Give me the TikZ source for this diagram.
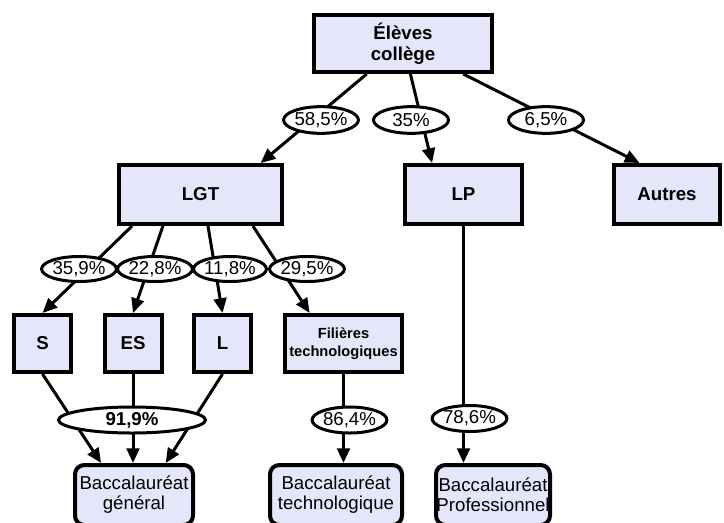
\documentclass[tikz,border=0pt]{standalone}
\usepackage{fontspec}
\setmainfont{Liberation Sans}
\usetikzlibrary{arrows.meta,calc,shapes.geometric}
\definecolor{boxFill}{RGB}{230,230,250}
\tikzset{
  %school box
  boxNode/.style = {draw=black, line width=3pt, fill=boxFill, align=center,
    inner sep=0pt, font=\fontsize{14}{16}\selectfont\bfseries},
  %diploma box
  bacNode/.style = {boxNode, rounded corners=7pt,
    font=\fontsize{14}{15}\selectfont},
  %percentage
  pctNode/.style = {ellipse, draw=black, line width=2.25pt, fill=white,
    inner sep=0pt, minimum height=20pt, font=\fontsize{14}{16}\selectfont},
  arr/.style = {-{Triangle[length=11pt,width=9.5pt]}, line width=2.25pt}
}

\begin{document}
\begin{tikzpicture}[x=0.75pt, y=-0.75pt]
\useasboundingbox (0,0) rectangle (724,522);
% boxes
\node [boxNode, minimum width=133.5pt, minimum height=42.75pt] (eleves)
  at (403,43.5) {Élèves\\collège};
\node [boxNode, minimum width=122.25pt, minimum height=44.25pt] (lgt)
  at (200.5,194.5) {LGT};
\node [boxNode, minimum width=87.75pt, minimum height=44.25pt] (lp)
  at (463.5,194.5) {LP};
\node [boxNode, minimum width=79.5pt, minimum height=44.25pt] (autres)
  at (667,194.5) {Autres};
\node [boxNode, minimum width=42.75pt, minimum height=42.75pt] (s)
  at (42.5,343.5) {S};
\node [boxNode, minimum width=42.75pt, minimum height=42.75pt] (es)
  at (133,343.5) {ES};
\node [boxNode, minimum width=42.75pt, minimum height=42.75pt] (l)
  at (222.5,343.5) {L};
\node [boxNode, minimum width=87.75pt, minimum height=42.75pt,
  font=\fontsize{11}{13}\selectfont\bfseries] (fil)
  at (343.5,343.5) {Filières\\technologiques};
\node [bacNode, minimum width=88.5pt, minimum height=45pt] (bacg)
  at (134,495) {Baccalauréat\\général};
\node [bacNode, minimum width=99pt, minimum height=45pt] (bact)
  at (336,495) {Baccalauréat\\technologique};
\node [bacNode, minimum width=85.5pt, minimum height=45pt] (bacp)
  at (493,495) {Baccalauréat\\Professionnel};

% connectors
\draw [arr] (eleves) -- ($(lgt.north west)!0.86!(lgt.north east)$);
\draw [arr] (eleves) -- ($(lp.north west)!0.24!(lp.north east)$);
\draw [arr] (eleves) -- ($(autres.north west)!0.25!(autres.north east)$);
\draw [arr] ($(lgt.south west)!0.09!(lgt.south east)$) -- (s.north);
\draw [arr] ($(lgt.south west)!0.275!(lgt.south east)$) -- (es.north);
\draw [arr] ($(lgt.south west)!0.545!(lgt.south east)$) -- (l.north);
\draw [arr] ($(lgt.south west)!0.814!(lgt.south east)$)
  -- ($(fil.north west)!0.22!(fil.north east)$);
\draw [arr] (s.south) -- ($(bacg.north west)!0.23!(bacg.north east)$);
\draw [arr] (es.south) -- (es.south |- bacg.north);
\draw [arr] (l.south) -- ($(bacg.north west)!0.76!(bacg.north east)$);
\draw [arr] (fil.south) -- (fil.south |- bact.north);
\draw [arr] (lp.south) -- (lp.south |- bacp.north);

% percentages
\node [pctNode, minimum width=54.75pt] (p585) at (321,120) {58,5\%};
\node [pctNode, minimum width=56.25pt] (p35) at (411,120) {35\%};
\node [pctNode, minimum width=56.25pt] (p65) at (546,120) {6,5\%};
\node [pctNode, minimum width=51.75pt, minimum height=18.75pt] (p359)
  at (79,269) {35,9\%};
\node [pctNode, minimum width=54pt, minimum height=18.75pt] (p228)
  at (155,269) {22,8\%};
\node [pctNode, minimum width=52.5pt, minimum height=18.75pt] (p118)
  at (230,269) {11,8\%};
\node [pctNode, minimum width=54.75pt, minimum height=18.75pt] (p295)
  at (307,269) {29,5\%};
\node [pctNode, minimum width=110.25pt, minimum height=19.5pt,
  font=\fontsize{14}{16}\selectfont\bfseries] (p919) at (132,420) {91,9\%};
\node [pctNode, minimum width=54pt, minimum height=19.5pt] (p864)
  at (349.5,420) {86,4\%};
\node [pctNode, minimum width=54pt, minimum height=19.5pt] (p786)
  at (469.5,418.5) {78,6\%};
\end{tikzpicture}
\end{document}
